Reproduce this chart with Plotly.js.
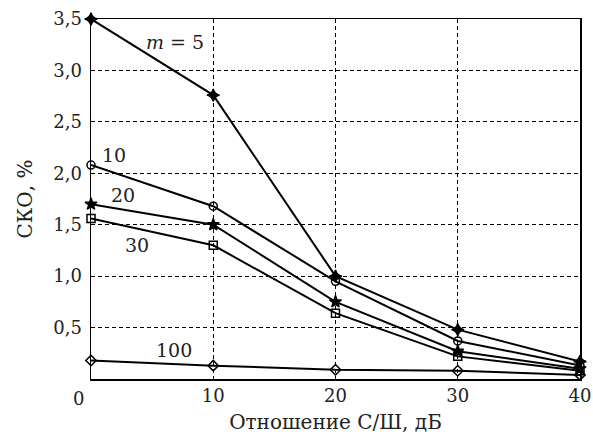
<!DOCTYPE html>
<html>
<head>
<meta charset="utf-8">
<script src="https://cdn.plot.ly/plotly-3.0.1.min.js"></script>
<style>html,body{margin:0;padding:0;background:#fff;}#chart{width:593px;height:438px;}</style>
</head>
<body>
<div id="chart"></div>
<script>
// Data
const snr = [0, 10, 20, 30, 40];
const m5   = [3.50, 2.76, 1.00, 0.48, 0.17];
const m10  = [2.08, 1.68, 0.95, 0.37, 0.13];
const m20  = [1.70, 1.50, 0.75, 0.27, 0.10];
const m30  = [1.56, 1.30, 0.64, 0.22, 0.08];
const m100 = [0.18, 0.13, 0.09, 0.08, 0.04];

const xTickVals = [10, 20, 30, 40];
const xTickText = ['10', '20', '30', '40'];
const yTickVals = [0.5, 1.0, 1.5, 2.0, 2.5, 3.0, 3.5];
const yTickText = ['0,5', '1,0', '1,5', '2,0', '2,5', '3,0', '3,5'];

const curveLabels = ['<i>m</i> = 5', '10', '20', '30', '100'];
const labelX = [6.85, 1.85, 2.65, 3.75, 6.8];
const labelY = [3.28, 2.18, 1.79, 1.30, 0.28];

const FONT = 'DejaVu Serif, serif';
const series = [
  {y: m5,   symbol: 'star-diamond', size: 9},
  {y: m10,  symbol: 'circle-open', size: 8},
  {y: m20,  symbol: 'star', size: 9},
  {y: m30,  symbol: 'square-open', size: 8},
  {y: m100, symbol: 'diamond-open', size: 8}
];

const traces = series.map(s => ({
  x: snr, y: s.y, type: 'scatter', mode: 'lines+markers',
  line: {color: '#000', width: 2},
  marker: {symbol: s.symbol, size: s.size, color: '#000',
           line: {color: '#000', width: 1.5}},
  cliponaxis: false, showlegend: false
}));

const annotations = curveLabels.map((t, i) => ({
  x: labelX[i], y: labelY[i], xref: 'x', yref: 'y', text: t,
  showarrow: false, font: {family: FONT, size: 19, color: '#222'}
}));
annotations.push({x: 0, y: 0, xref: 'x', yref: 'y', text: '0', showarrow: false,
  xshift: -13, yshift: -19, font: {family: FONT, size: 18, color: '#222'}});

const layout = {
  width: 593, height: 438,
  margin: {l: 91, r: 13, t: 19, b: 59},
  paper_bgcolor: '#fff', plot_bgcolor: '#fff',
  font: {family: FONT, size: 18, color: '#222'},
  xaxis: {
    range: [0, 40], tickvals: xTickVals, ticktext: xTickText,
    showgrid: true, gridcolor: '#000', gridwidth: 1, griddash: '4px,3px',
    showline: true, linecolor: '#000', linewidth: 1.5, mirror: true,
    ticks: '', zeroline: false,
    title: {text: 'Отношение С/Ш, дБ', font: {family: FONT, size: 20, color: '#222'}, standoff: 10}
  },
  yaxis: {
    range: [0, 3.5], tickvals: yTickVals, ticktext: yTickText,
    showgrid: true, gridcolor: '#000', gridwidth: 1, griddash: '4px,3px',
    showline: true, linecolor: '#000', linewidth: 1.5, mirror: true,
    ticks: '', zeroline: false, ticklabelstandoff: 4,
    title: {text: 'СКО, %', font: {family: FONT, size: 20, color: '#222'}, standoff: 15}
  },
  annotations: annotations
};

Plotly.newPlot('chart', traces, layout, {staticPlot: true, displayModeBar: false});
</script>
</body>
</html>
